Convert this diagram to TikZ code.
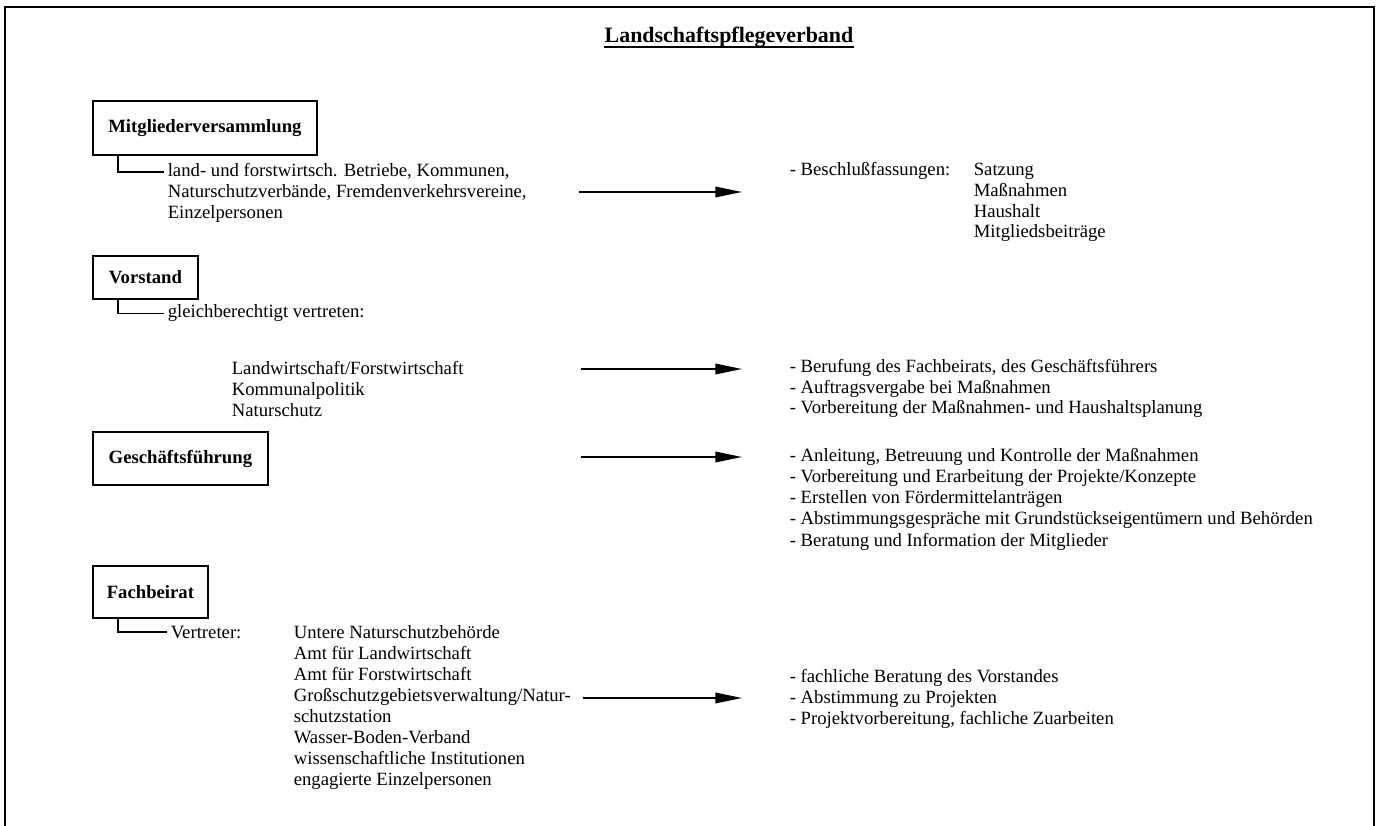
\documentclass[tikz,border=0pt]{standalone}
\usepackage{fontspec}
\setmainfont{Liberation Serif}
\usetikzlibrary{arrows.meta}

\begin{document}
\begin{tikzpicture}[x=0.025cm, y=-0.025cm,
  every node/.style={font=\fontsize{13.3}{15}\selectfont, inner sep=1.5pt},
  organ/.style={draw, line width=1.3pt, anchor=west, font=\fontsize{13.3}{15}\selectfont\bfseries},
  item/.style={anchor=base west, inner xsep=2.5pt},
  tie/.style={line width=1pt},
  flow/.style={line width=1.2pt, -{Triangle[length=19pt, width=7.5pt]}}]
  \useasboundingbox (0,0) rectangle (1380,826);
  % Frame (open at the bottom)
  \draw[line width=1.4pt] (5,826) |- (1374,7) -- (1374,826);
  % Title
  \node[anchor=base, inner sep=0pt, font=\fontsize{15.6}{18}\selectfont\bfseries] (title) at (729,43) {Landschaftspflegeverband};
  \draw[line width=1.3pt] ([yshift=-2.6pt]title.base west) -- ([yshift=-2.6pt]title.base east);

  % Organs
  \node[organ, minimum width=5.6cm, minimum height=1.35cm] (mv) at (92,128) {Mitgliederversammlung};
  \node[organ, minimum width=2.625cm, minimum height=1.075cm] (vs) at (92,277.5) {Vorstand};
  \node[organ, minimum width=4.375cm, minimum height=1.325cm] (gf) at (92,458.5) {Geschäftsführung};
  \node[organ, minimum width=2.875cm, minimum height=1.3cm] (fb) at (92,592) {Fachbeirat};

  % Mitgliederversammlung
  \foreach \t [count=\i] in {{land- und forstwirtsch. Betriebe, Kommunen,},
      {Naturschutzverbände, Fremdenverkehrsvereine,}, Einzelpersonen}
    \node[item] (mv\i) at (164,156+21*\i) {\t};
  \draw[tie] ([xshift=0.65cm]mv.south west) |- (mv1.west);
  \node[item] (mvb) at (786,176) {- Beschlußfassungen:};
  \foreach \t [count=\i] in {Satzung, Maßnahmen, Haushalt, Mitgliedsbeiträge}
    \node[item] (mvr\i) at (970,155+20.7*\i) {\t};
  \coordinate (mva) at (579,192);
  \coordinate (mvz) at (742,192);
  \draw[flow] (mva) -- (mvz);

  % Vorstand
  \node[item] (vs0) at (164,318) {gleichberechtigt vertreten:};
  \draw[tie] ([xshift=0.65cm]vs.south west) |- (vs0.west);
  \foreach \t [count=\i] in {Landwirtschaft/Forstwirtschaft, Kommunalpolitik, Naturschutz}
    \node[item] (vs\i) at (228,353+21*\i) {\t};
  \foreach \t [count=\i] in {{Berufung des Fachbeirats, des Geschäftsführers},
      Auftragsvergabe bei Maßnahmen, Vorbereitung der Maßnahmen- und Haushaltsplanung}
    \node[item] (vsr\i) at (786,351+21*\i) {- \t};
  \coordinate (vsa) at (581,369);
  \coordinate (vsz) at (742,369);
  \draw[flow] (vsa) -- (vsz);

  % Geschaeftsfuehrung
  \foreach \t [count=\i] in {{Anleitung, Betreuung und Kontrolle der Maßnahmen},
      Vorbereitung und Erarbeitung der Projekte/Konzepte,
      Erstellen von Fördermittelanträgen,
      Abstimmungsgespräche mit Grundstückseigentümern und Behörden,
      Beratung und Information der Mitglieder}
    \node[item] (gfr\i) at (786,440+21.2*\i) {- \t};
  \coordinate (gfa) at (581,457);
  \coordinate (gfz) at (742,457);
  \draw[flow] (gfa) -- (gfz);

  % Fachbeirat
  \node[item] (fb0) at (167,638) {Vertreter:};
  \draw[tie] ([xshift=0.65cm]fb.south west) |- (fb0.west);
  \foreach \t [count=\i] in {Untere Naturschutzbehörde, Amt für Landwirtschaft,
      Amt für Forstwirtschaft, Großschutzgebietsverwaltung/Natur-, schutzstation,
      Wasser-Boden-Verband, wissenschaftliche Institutionen, engagierte Einzelpersonen}
    \node[item] (fb\i) at (290,617+21*\i) {\t};
  \foreach \t [count=\i] in {fachliche Beratung des Vorstandes, Abstimmung zu Projekten,
      {Projektvorbereitung, fachliche Zuarbeiten}}
    \node[item] (fbr\i) at (786,661+21*\i) {- \t};
  \coordinate (fba) at (583,698);
  \coordinate (fbz) at (742,698);
  \draw[flow] (fba) -- (fbz);
\end{tikzpicture}
\end{document}
